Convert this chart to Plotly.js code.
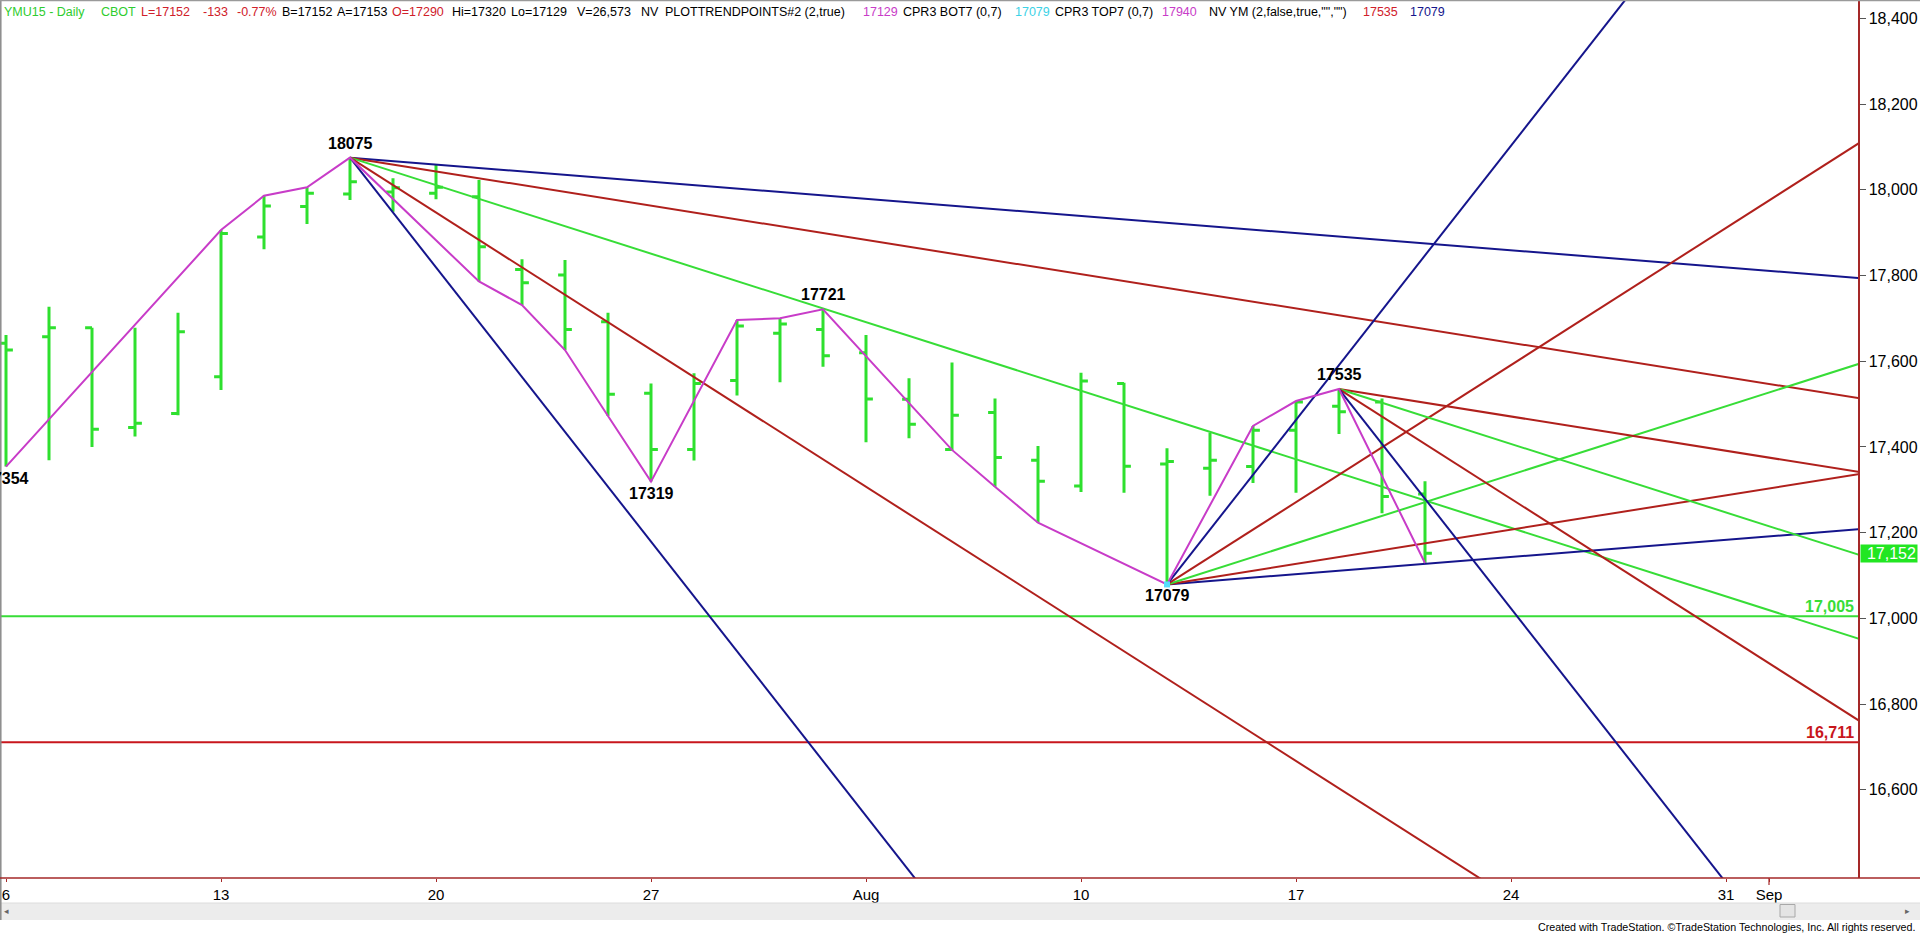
<!DOCTYPE html>
<html>
<head>
<meta charset="utf-8">
<script src="https://cdn.plot.ly/plotly-3.0.1.min.js"></script>
<style>
  html, body { margin: 0; padding: 0; background: #ffffff; }
  #chart { width: 1920px; height: 934px; }
</style>
</head>
<body>
<div id="chart"></div>
<script>
// ---------------- DATA ----------------
const dates = ['2015-07-06','2015-07-07','2015-07-08','2015-07-09','2015-07-10',
  '2015-07-13','2015-07-14','2015-07-15','2015-07-16','2015-07-17',
  '2015-07-20','2015-07-21','2015-07-22','2015-07-23','2015-07-24',
  '2015-07-27','2015-07-28','2015-07-29','2015-07-30','2015-07-31',
  '2015-08-03','2015-08-04','2015-08-05','2015-08-06','2015-08-07',
  '2015-08-10','2015-08-11','2015-08-12','2015-08-13','2015-08-14',
  '2015-08-17','2015-08-18','2015-08-19','2015-08-20'];
const opens  = [17642,17657,17678,17445,17478, 17564,17890,17961,17990,17995,
                17992,17984,17814,17801,17692, 17525,17394,17555,17665,17674,
                17620,17511,17394,17480,17369, 17309,17548,17360,17350,17354,
                17439,17495,17505,17290];
const highs  = [17661,17727,17678,17678,17713, 17906,17986,18006,18075,18027,
                18058,18023,17838,17836,17713, 17548,17572,17696,17700,17721,
                17661,17560,17597,17513,17402, 17573,17550,17397,17433,17449,
                17507,17535,17513,17320];
const lows   = [17354,17369,17400,17424,17474, 17533,17861,17920,17976,17949,
                17978,17786,17731,17626,17472, 17319,17368,17520,17551,17587,
                17411,17420,17393,17307,17223, 17295,17293,17079,17286,17316,
                17293,17430,17245,17129];
const closes = [17626,17678,17441,17455,17669, 17898,17962,17992,18019,18005,
                18006,17867,17783,17674,17523, 17394,17548,17682,17687,17613,
                17512,17453,17474,17375,17320, 17554,17355,17366,17369,17439,
                17505,17482,17284,17152];

// swing (zigzag) points: bar index and whether the high or the low is used
const zigzagIdx  = [0,5,6,7,8,11,12,13,14,15,17,18,19,22,23,24,27,29,30,31,33];
const zigzagType = ['L','H','H','H','H','L','L','L','L','L','H','H','H','L','L','L','L','H','H','H','L'];

// labelled pivots
const pivotIdx  = [0, 8, 15, 19, 27, 31];
const pivotType = ['L','H','L','H','L','H'];

// Gann fans: anchor pivot (bar index + H/L) and slopes in points per bar
const fanAnchorIdx  = [8, 27, 31];
const fanAnchorType = ['H', 'L', 'H'];
const fanSlopes = [
  [-8, -16, -32, -64, -128],
  [8, 16, 32, 64, 128],
  [-16, -32, -64, -128]
];
const fanColors = [
  ['navy','red','green','red','navy'],
  ['navy','red','green','red','navy'],
  ['red','green','red','navy']
];

// horizontal levels
const levelValues = [17005, 16711];
const levelLabels = ['17,005', '16,711'];
const levelColors = ['green', 'lvlred'];

// axis ticks
const xTickIdx  = [0, 5, 10, 15, 20, 25, 30, 35, 40, 41];
const xTickText = ['6','13','20','27','Aug','10','17','24','31','Sep'];
const yTickVals = [16600,16800,17000,17200,17400,17600,17800,18000,18200,18400];

// header texts
const headerTexts = ['YMU15 - Daily','CBOT','L=17152','-133','-0.77%','B=17152','A=17153','O=17290',
  'Hi=17320','Lo=17129','V=26,573','NV','PLOTTRENDPOINTS#2 (2,true)','17129','CPR3 BOT7 (0,7)',
  '17079','CPR3 TOP7 (0,7)','17940','NV YM (2,false,true,"","")','17535','17079'];
const headerColors = ['hgreen','hgreen','hred','hred','hred','black','black','hred',
  'black','black','black','black','black','magenta','black',
  'cyan','black','magenta','black','hred','navy'];
const headerX = [3,100,135,202,236,274,332,386,451,508,576,640,664,862,899,1014,1054,1161,1208,1362,1409];

const footerText = 'Created with TradeStation. \u00A9TradeStation Technologies, Inc. All rights reserved.';

// ---------------- STYLE ----------------
const COL = {
  navy: '#15158c', red: '#b0201c', green: '#37dd37', magenta: '#c83cc8',
  lvlred: '#c8161c', hgreen: '#2ecc2e', hred: '#d0202a', cyan: '#3cd2e6',
  black: '#000000', bar: '#2ee02e', axis: '#a52828'
};
const W = 1920, H = 934;
const plotLeft = 0, plotRight = 1858, plotTop = 0, plotBottom = 878;
const pxPerBar = 43, firstBarPx = 6;
const pxPer200 = 85.7, y18400px = 18.4;
const ppp = pxPer200 / 200;
const xRange = [(plotLeft - firstBarPx) / pxPerBar, (plotRight - firstBarPx) / pxPerBar];
const yRange = [18400 - (plotBottom - y18400px) / ppp, 18400 + (y18400px - plotTop) / ppp];
const pw = plotRight - plotLeft, ph = plotBottom - plotTop;
const px2paperX = p => (p - plotLeft) / pw;
const px2paperY = p => (plotBottom - p) / ph;

const idx = dates.map((d, i) => i);
const priceOf = (i, t) => t === 'H' ? highs[i] : lows[i];

const traces = [];

// fans
fanAnchorIdx.forEach((ai, f) => {
  const p0 = priceOf(ai, fanAnchorType[f]);
  fanSlopes[f].forEach((s, k) => {
    const xEnd = ai + 40;
    traces.push({
      type: 'scatter', mode: 'lines',
      x: [ai, xEnd], y: [p0, p0 + s * (xEnd - ai)],
      line: { color: COL[fanColors[f][k]], width: 2 },
      hoverinfo: 'skip', showlegend: false
    });
  });
});

// zigzag
traces.push({
  type: 'scatter', mode: 'lines',
  x: zigzagIdx, y: zigzagIdx.map((i, k) => priceOf(i, zigzagType[k])),
  line: { color: COL.magenta, width: 2 }, hoverinfo: 'skip', showlegend: false
});

// OHLC bars
traces.push({
  type: 'ohlc', x: idx, open: opens, high: highs, low: lows, close: closes,
  text: dates, tickwidth: 0.16,
  increasing: { line: { color: COL.bar, width: 3 } },
  decreasing: { line: { color: COL.bar, width: 3 } },
  showlegend: false
});

// cyan bottom marker at the 17079 low
traces.push({
  type: 'scatter', mode: 'markers', x: [27], y: [lows[27]],
  marker: { color: '#55ddff', size: 6, symbol: 'square' }, hoverinfo: 'skip', showlegend: false
});

// ---------------- ANNOTATIONS ----------------
const annotations = [];
pivotIdx.forEach((i, k) => {
  const t = pivotType[k];
  const v = priceOf(i, t);
  annotations.push({
    xref: 'x', yref: 'y', x: i, y: v, text: String(v), showarrow: false,
    xanchor: 'center', yanchor: t === 'H' ? 'bottom' : 'top', yshift: t === 'H' ? 4 : -1,
    font: { family: 'Liberation Sans, Arial, sans-serif', size: 16, color: '#000', weight: 'bold' }
  });
});
levelValues.forEach((v, k) => {
  annotations.push({
    xref: 'paper', yref: 'y', x: 1, y: v, text: '<b>' + levelLabels[k] + '</b>', showarrow: false,
    xanchor: 'right', yanchor: 'bottom', xshift: -2, yshift: -1,
    font: { family: 'Liberation Sans, Arial, sans-serif', size: 16, color: COL[levelColors[k]] }
  });
});
// last price box
annotations.push({
  xref: 'paper', yref: 'y', x: 1, y: closes[closes.length - 1],
  text: closes[closes.length - 1].toLocaleString('en-US'), showarrow: false,
  xanchor: 'left', yanchor: 'middle', xshift: 2, width: 54, height: 15, align: 'right',
  bgcolor: '#22e622', borderpad: 1,
  font: { family: 'Liberation Sans, Arial, sans-serif', size: 16, color: '#ffffff' }
});
// header: keep reference positions, but never let a token run into the previous one
const headerFontSize = 12.5;
const headerFamily = 'Liberation Sans, Arial, sans-serif';
const measureCtx = document.createElement('canvas').getContext('2d');
measureCtx.font = headerFontSize + 'px "Liberation Sans", Arial, sans-serif';
let prevEnd = -1e9;
headerTexts.forEach((t, k) => {
  const wdt = measureCtx.measureText(t).width;
  const x0 = Math.max(headerX[k], prevEnd + 5);
  prevEnd = x0 + wdt;
  annotations.push({
    xref: 'paper', yref: 'paper', x: px2paperX(x0), y: px2paperY(12),
    text: t, showarrow: false, xanchor: 'left', yanchor: 'middle', borderpad: 0,
    font: { family: headerFamily, size: headerFontSize, color: COL[headerColors[k]] }
  });
});
annotations.push({
  xref: 'paper', yref: 'paper', x: px2paperX(1917), y: px2paperY(927), text: footerText,
  showarrow: false, xanchor: 'right', yanchor: 'middle',
  font: { family: 'Liberation Sans, Arial, sans-serif', size: 10.7, color: '#000' }
});
annotations.push({
  xref: 'paper', yref: 'paper', x: px2paperX(6), y: px2paperY(911), text: '\u25C2', showarrow: false,
  xanchor: 'center', yanchor: 'middle', font: { size: 9, color: '#666' }
});
annotations.push({
  xref: 'paper', yref: 'paper', x: px2paperX(1908), y: px2paperY(911), text: '\u25B8', showarrow: false,
  xanchor: 'center', yanchor: 'middle', font: { size: 9, color: '#666' }
});

// ---------------- SHAPES ----------------
const shapes = [];
levelValues.forEach((v, k) => {
  shapes.push({ type: 'line', xref: 'paper', yref: 'y', x0: 0, x1: 1, y0: v, y1: v,
    line: { color: COL[levelColors[k]], width: 2 }, layer: 'below' });
});
// scrollbar
shapes.push({ type: 'rect', xref: 'paper', yref: 'paper', x0: px2paperX(0), x1: px2paperX(1920),
  y0: px2paperY(903), y1: px2paperY(920), fillcolor: '#ececec', line: { width: 0 } });
shapes.push({ type: 'line', xref: 'paper', yref: 'paper', x0: px2paperX(0), x1: px2paperX(1920),
  y0: px2paperY(903), y1: px2paperY(903), line: { color: '#dcdcdc', width: 1 } });
shapes.push({ type: 'rect', xref: 'paper', yref: 'paper', x0: px2paperX(1780), x1: px2paperX(1795),
  y0: px2paperY(904.5), y1: px2paperY(917), fillcolor: '#e4e4e4', line: { color: '#a8a8a8', width: 1 } });
// frame lines
shapes.push({ type: 'line', xref: 'paper', yref: 'paper', x0: px2paperX(0.8), x1: px2paperX(0.8),
  y0: px2paperY(920), y1: 1, line: { color: '#8a8a8a', width: 1.5 } });
shapes.push({ type: 'line', xref: 'paper', yref: 'paper', x0: 0, x1: px2paperX(1920),
  y0: px2paperY(0.6), y1: px2paperY(0.6), line: { color: '#9a9a9a', width: 1.2 } });
shapes.push({ type: 'line', xref: 'paper', yref: 'paper', x0: 0, x1: px2paperX(1920),
  y0: 0, y1: 0, line: { color: COL.axis, width: 1.5 } });
// longer month tick for Sep
shapes.push({ type: 'line', xref: 'x', yref: 'paper', x0: 41, x1: 41,
  y0: 0, y1: px2paperY(885), line: { color: COL.axis, width: 1.2 } });

// ---------------- LAYOUT ----------------
const layout = {
  width: W, height: H,
  margin: { l: plotLeft, r: W - plotRight, t: plotTop, b: H - plotBottom, pad: 0 },
  paper_bgcolor: '#ffffff', plot_bgcolor: '#ffffff',
  showlegend: false, hovermode: false,
  xaxis: {
    type: 'linear', range: xRange, rangeslider: { visible: false },
    tickmode: 'array', tickvals: xTickIdx, ticktext: xTickText,
    showgrid: false, zeroline: false, showline: false,
    ticks: 'outside', ticklen: 3, tickcolor: COL.axis, tickwidth: 1,
    tickfont: { family: 'Liberation Sans, Arial, sans-serif', size: 15, color: '#000' }
  },
  yaxis: {
    type: 'linear', range: yRange, side: 'right',
    tickmode: 'array', tickvals: yTickVals, tickformat: ',d',
    showgrid: false, zeroline: false, showline: true, linecolor: COL.axis, linewidth: 1.5,
    ticks: 'outside', ticklen: 6, tickcolor: '#555', tickwidth: 1,
    tickfont: { family: 'Liberation Sans, Arial, sans-serif', size: 16, color: '#000' }
  },
  annotations: annotations,
  shapes: shapes
};

Plotly.newPlot('chart', traces, layout, { displayModeBar: false, staticPlot: true });
</script>
</body>
</html>
